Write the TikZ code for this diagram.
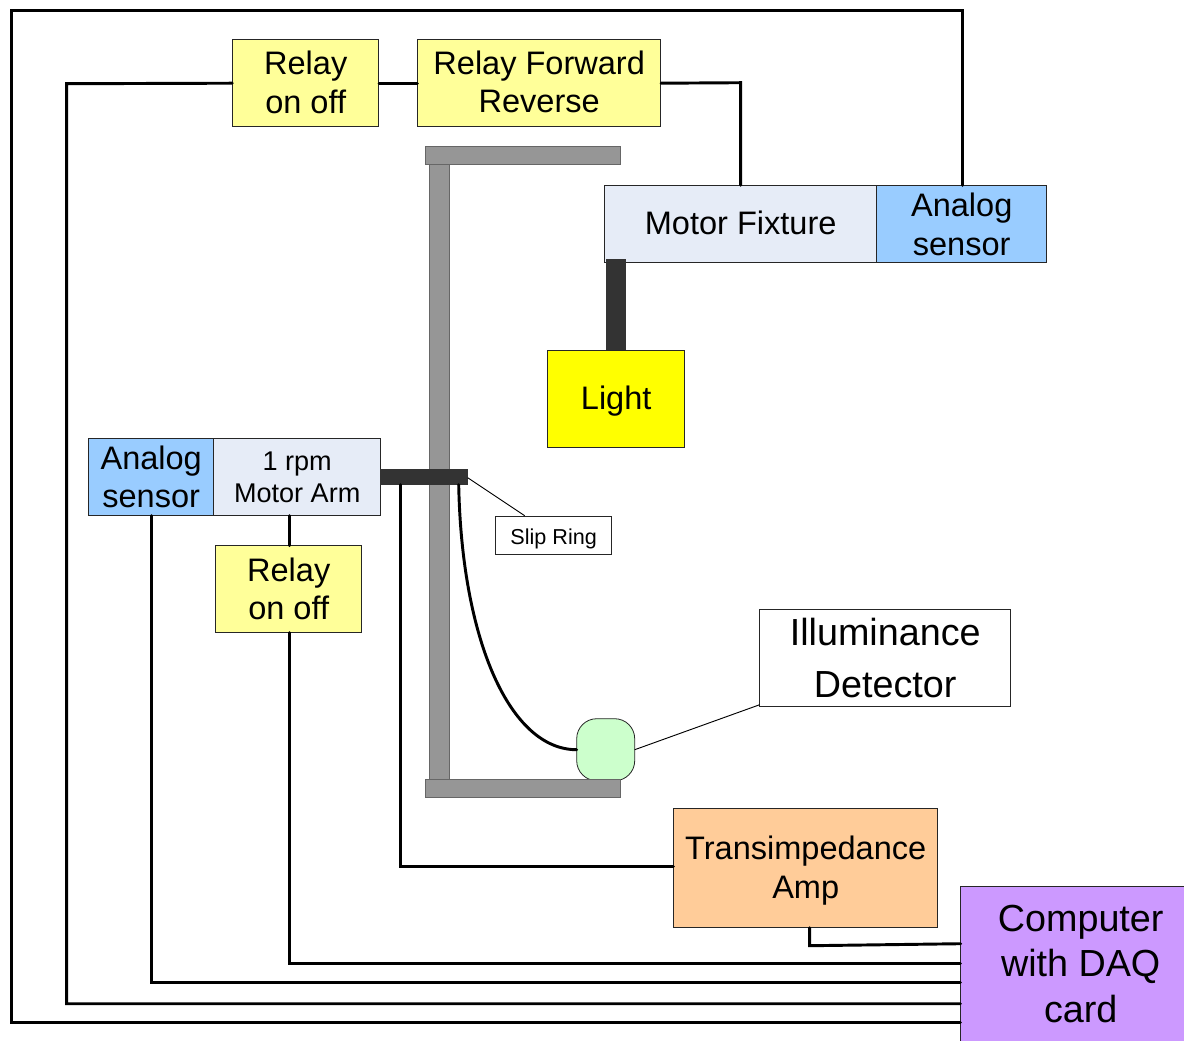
\documentclass[tikz,border=0pt]{standalone}
\usepackage{fontspec}
\setmainfont{Liberation Sans}
\newcommand{\fsA}{\fontsize{24.4pt}{29pt}\selectfont}
\newcommand{\fsB}{\fontsize{28.3pt}{34pt}\selectfont}
\newcommand{\fsE}{\fontsize{28.3pt}{39pt}\selectfont}
\newcommand{\fsC}{\fontsize{20.3pt}{24pt}\selectfont}
\newcommand{\fsD}{\fontsize{16.2pt}{19pt}\selectfont}
\tikzset{
  x=0.75pt,y=-0.75pt,
  box/.style={draw=black!85,line width=0.6pt,inner sep=0pt},
  boxtext/.style={inner sep=0pt,align=center},
  bar/.style={draw=black!60,line width=0.6pt,fill=barg,inner sep=0pt},
  wire/.style={draw=black,line width=2.2pt,line cap=round,line join=miter},
  thinw/.style={draw=black,line width=0.7pt},
}
\definecolor{barg}{HTML}{969696}
\definecolor{darkb}{HTML}{333333}
\definecolor{ylw}{HTML}{FFFF99}
\definecolor{lightyl}{HTML}{FFFF00}
\definecolor{blu}{HTML}{99CCFF}
\definecolor{mot}{HTML}{E6ECF7}
\definecolor{org}{HTML}{FFCC99}
\definecolor{pur}{HTML}{CC99FF}
\definecolor{grn}{HTML}{CCFFCC}
% options, name, x1, y1, x2, y2
\newcommand{\bx}[6]{\node[#1,minimum width=#5*0.75pt-#3*0.75pt,minimum height=#6*0.75pt-#4*0.75pt] (#2) at ({(#3+#5)/2},{(#4+#6)/2}) {};}
% options, name, x1, y1, x2, y2, text shift down in px, font, text
\newcommand{\tbx}[9]{\node[#1,minimum width=#5*0.75pt-#3*0.75pt,minimum height=#6*0.75pt-#4*0.75pt,label={[boxtext,font=#8,yshift={-(#7)*0.75pt}]center:{#9}}] (#2) at ({(#3+#5)/2},{(#4+#6)/2}) {};}
\begin{document}
\begin{tikzpicture}
\useasboundingbox (0,0) rectangle (1184,1040);
\clip (0,0) rectangle (1184,1040);
\begin{scope}[shift={(-0.3,-0.3)}]
% structure
\bx{bar}{pole}{430}{165}{450}{780}
\bx{bar}{topbar}{426}{147}{621}{165}
% boxes
\tbx{box,fill=ylw}{relayA}{233}{40}{379}{127}{-1}{\fsA}{Relay\\on off}
\tbx{box,fill=ylw}{relayFR}{418}{40}{661}{127}{-1.5}{\fsA}{Relay Forward\\Reverse}
\tbx{box,fill=mot}{fixture}{605}{186}{877}{263}{-1}{\fsA}{Motor Fixture}
\tbx{box,fill=blu}{sensorA}{877}{186}{1047}{263}{0}{\fsA}{Analog\\sensor}
\bx{bar,fill=darkb,draw=darkb}{stem}{607}{260}{626}{351}
\tbx{box,fill=lightyl}{light}{548}{351}{685}{448}{2}{\fsA}{Light}
\tbx{box,fill=blu}{sensorB}{89}{439}{214}{516}{-0.5}{\fsA}{Analog\\sensor}
\tbx{box,fill=mot}{arm}{214}{439}{381}{516}{0}{\fsC}{1 rpm\\Motor Arm}
\tbx{box,fill=ylw}{relayB}{216}{546}{362}{633}{-0.5}{\fsA}{Relay\\on off}
\tbx{box,fill=white}{slipl}{496}{517}{612}{555}{3}{\fsD}{Slip Ring}
\tbx{box,fill=white}{detector}{760}{610}{1011}{707}{0}{\fsE}{Illuminance\\Detector}
\tbx{box,fill=org}{amp}{674}{809}{938}{928}{2.5}{\fsA}{Transimpedance\\Amp}
\bx{box,fill=pur}{comp}{961}{887}{1199}{1055}
\node[font=\fsB,boxtext] (comptext) at (1081,964) {Computer\\with DAQ\\card};
\bx{box,fill=grn,rounded corners=15pt}{head}{577}{719}{635}{781}
\bx{bar}{botbar}{426}{780}{621}{798}
\bx{bar,fill=darkb,draw=darkb}{slip}{381}{470}{468}{485}
% free-end coordinates
\coordinate (tl) at (12,11);
\coordinate (tr) at (963,11);
\coordinate (bl) at (12,1023);
\coordinate (rl) at (67,84);
\coordinate (rb) at (67,1004);
\coordinate (fr) at (741,83);
\coordinate (sb) at (152,983);
\coordinate (rbb) at (290,964);
\coordinate (ampa) at (810,928);
\coordinate (ampb) at (810,946);
\coordinate (compa) at (961,944);
\coordinate (slipa) at (401,485);
\coordinate (slipb) at (401,867);
\coordinate (slipc) at (459,485);
\coordinate (headw) at (577,750);
\coordinate (slipd) at (468,478);
\coordinate (slipe) at (525,516);
\coordinate (heade) at (635,750);
\coordinate (dete) at (760,705);
\coordinate (armb) at (290,516);
\coordinate (relt) at (290,546);
\coordinate (relb) at (290,633);
\coordinate (senb) at (152,516);
% wires
\draw[wire] (comp.west |- bl) -- (bl) -- (tl) -- (tr) -- (tr |- sensorA.north);
\draw[wire] (comp.west |- rb) -- (rb) -- (rl) -- (relayA.west);
\draw[wire] (relayA.east) -- (relayFR.west);
\draw[wire] (relayFR.east) -- (fr) -- (fr |- fixture.north);
\draw[wire] (comp.west |- sb) -- (sb) -- (senb);
\draw[wire] (comp.west |- rbb) -- (rbb) -- (relb);
\draw[wire] (armb) -- (relt);
\draw[wire] (ampa) -- (ampb) -- (compa);
\draw[wire] (slipa) -- (slipb) -- (amp.west |- slipb);
\draw[wire] (slipc) .. controls (462,640) and (510,750) .. (headw);
\draw[thinw] (slipd) -- (slipe);
\draw[thinw] (heade) -- (dete);
\end{scope}
\end{tikzpicture}
\end{document}
